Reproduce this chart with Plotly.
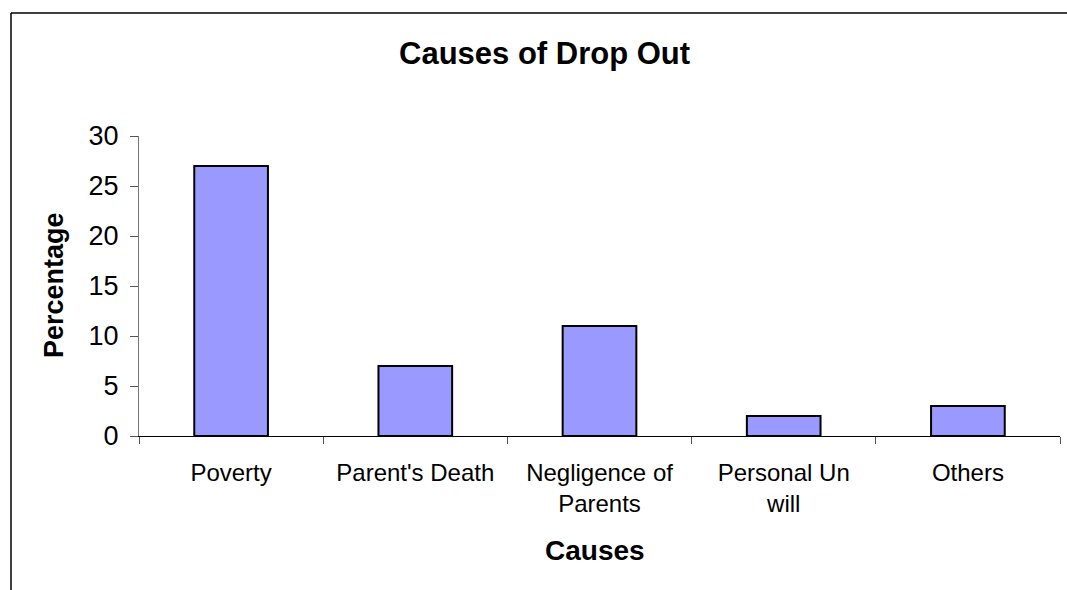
import plotly.graph_objects as go

categories = ["Poverty", "Parent's Death", "Negligence of<br>Parents", "Personal Un<br>will", "Others"]
values = [27, 7, 11, 2, 3]
y_ticks = [0, 5, 10, 15, 20, 25, 30]

L, R, T, B = 139, 1060, 136, 436
W, H = 1067, 590
pw, ph = R - L, B - T

def px(x):
    return (x - L) / pw

def py(y):
    return (B - y) / ph

fig = go.Figure(go.Bar(
    x=categories, y=values,
    marker=dict(color="#9999FF", line=dict(color="black", width=2)),
    width=0.4,
))

font = "Liberation Sans, Arial, sans-serif"
fig.update_layout(
    width=W, height=H,
    margin=dict(l=L, r=W - R, t=T, b=H - B, pad=0),
    plot_bgcolor="white", paper_bgcolor="white",
    showlegend=False,
    font=dict(family=font, color="black"),
    xaxis=dict(
        type="category", tickson="boundaries", ticks="outside", ticklen=7,
        tickcolor="#555", showline=True, linecolor="black", linewidth=1,
        showgrid=False, tickfont=dict(size=24), range=[-0.5, 4.5],
        ticklabelstandoff=15,
    ),
    yaxis=dict(
        range=[0, 30], tickvals=y_ticks, ticks="outside", ticklen=8,
        tickcolor="#555", showline=True, linecolor="#777", linewidth=1,
        showgrid=False, zeroline=False, tickfont=dict(size=27),
        ticklabelstandoff=6,
    ),
    annotations=[
        dict(text="<b>Causes of Drop Out</b>", x=px(544), y=py(53), xref="paper", yref="paper",
             showarrow=False, font=dict(size=31), xanchor="center", yanchor="middle"),
        dict(text="<b>Percentage</b>", x=px(54), y=py(285), xref="paper", yref="paper",
             showarrow=False, font=dict(size=27), textangle=-90, xanchor="center", yanchor="middle"),
        dict(text="<b>Causes</b>", x=px(595), y=py(550), xref="paper", yref="paper",
             showarrow=False, font=dict(size=28), xanchor="center", yanchor="middle"),
    ],
    shapes=[
        dict(type="line", xref="paper", yref="paper", x0=px(11), x1=px(11), y0=py(13), y1=py(592),
             line=dict(color="black", width=1.5)),
        dict(type="line", xref="paper", yref="paper", x0=px(11), x1=px(1067), y0=py(13), y1=py(13),
             line=dict(color="black", width=1.5)),
    ],
)

fig.write_html("out.html")
